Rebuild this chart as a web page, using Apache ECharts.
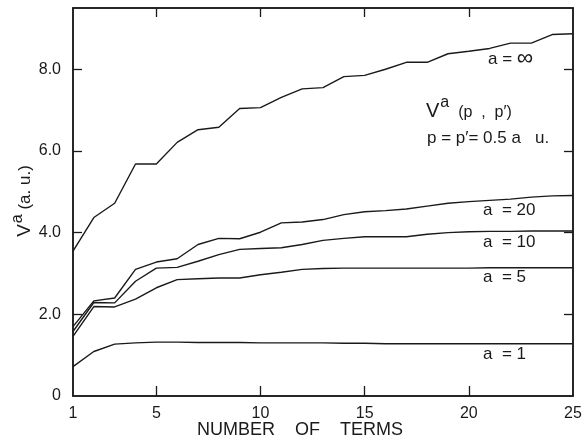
<!DOCTYPE html>
<html>
<head>
<meta charset="utf-8">
<script src="https://cdn.jsdelivr.net/npm/echarts@6/dist/echarts.min.js"></script>
<style>
  html, body { margin: 0; padding: 0; background: #fff; }
  #chart { width: 585px; height: 441px; }
</style>
</head>
<body>
<div id="chart"></div>
<script>
// number of terms
var terms = [];
for (var i = 1; i <= 25; i++) terms.push(i);

// V^a(p,p') curves
var aInf = [3.55, 4.37, 4.72, 5.68, 5.68, 6.21, 6.52, 6.58, 7.04, 7.06, 7.31, 7.52, 7.55, 7.82, 7.85, 8.00, 8.17, 8.17, 8.38, 8.44, 8.51, 8.64, 8.64, 8.85, 8.87];
var a20 = [1.70, 2.33, 2.40, 3.10, 3.28, 3.36, 3.71, 3.86, 3.85, 4.01, 4.24, 4.26, 4.32, 4.44, 4.51, 4.54, 4.58, 4.65, 4.72, 4.76, 4.79, 4.82, 4.87, 4.90, 4.91];
var a10 = [1.58, 2.29, 2.28, 2.81, 3.13, 3.15, 3.30, 3.46, 3.59, 3.61, 3.63, 3.71, 3.81, 3.86, 3.90, 3.90, 3.90, 3.96, 4.00, 4.02, 4.03, 4.03, 4.04, 4.04, 4.04];
var a5 = [1.46, 2.19, 2.18, 2.37, 2.65, 2.85, 2.87, 2.89, 2.89, 2.97, 3.03, 3.10, 3.12, 3.13, 3.13, 3.13, 3.13, 3.13, 3.13, 3.13, 3.14, 3.14, 3.14, 3.14, 3.14];
var a1 = [0.72, 1.09, 1.27, 1.30, 1.32, 1.32, 1.31, 1.31, 1.31, 1.30, 1.30, 1.30, 1.30, 1.29, 1.29, 1.28, 1.28, 1.28, 1.28, 1.28, 1.28, 1.28, 1.28, 1.28, 1.28];

// tick labels
var xLabels = [1, 5, 10, 15, 20, 25];
var xTicks = [5, 10, 15, 20];
var yLabels = [0, 2, 4, 6, 8];
var yTicks = [2, 4, 6, 8];

var font = 'Liberation Sans, Arial, sans-serif';
var ink = '#1a1a1a';

function pairs(ys) {
    return ys.map(function (v, i) { return [terms[i], v]; });
}

function curve(name, ys) {
    return {
        name: name,
        type: 'line',
        data: pairs(ys),
        symbol: 'none',
        animation: false,
        lineStyle: {color: ink, width: 1.4}
    };
}

// frame axis: ticks only, no labels
function frameAxis(extra) {
    var ax = {
        type: 'value',
        axisLine: {show: true, onZero: false, lineStyle: {color: ink, width: 1.5}},
        axisTick: {show: true, inside: true, length: 9, lineStyle: {color: ink, width: 1.3}},
        axisLabel: {show: false},
        splitLine: {show: false}
    };
    for (var k in extra) ax[k] = extra[k];
    return ax;
}

var myChart = echarts.init(document.getElementById('chart'));

var option = {
    backgroundColor: '#fff',
    animation: false,
    grid: {left: 73, right: 12, top: 8, bottom: 45, show: true, borderColor: ink, borderWidth: 1.5},
    xAxis: [
        {
            type: 'value', min: 1, max: 25,
            axisLine: {onZero: false, lineStyle: {color: ink, width: 1.5}},
            axisTick: {inside: true, length: 10, customValues: xTicks, lineStyle: {color: ink, width: 1.3}},
            axisLabel: {customValues: xLabels, color: ink, fontSize: 16, fontFamily: font, margin: 10},
            splitLine: {show: false}
        },
        frameAxis({min: 1, max: 25, position: 'top',
            axisTick: {show: true, inside: true, length: 9, customValues: xTicks, lineStyle: {color: ink, width: 1.3}}})
    ],
    yAxis: [
        {
            type: 'value', min: 0, max: 9.5,
            axisLine: {show: true, onZero: false, lineStyle: {color: ink, width: 1.5}},
            axisTick: {show: true, inside: true, length: 9, customValues: yTicks, lineStyle: {color: ink, width: 1.3}},
            axisLabel: {
                customValues: yLabels, color: ink, fontSize: 16, fontFamily: font, margin: 12,
                formatter: function (v) { return v === 0 ? '0' : v.toFixed(1); }
            },
            splitLine: {show: false}
        },
        frameAxis({min: 0, max: 9.5, position: 'right',
            axisTick: {show: true, inside: true, length: 9, customValues: yTicks, lineStyle: {color: ink, width: 1.3}}})
    ],
    series: [
        curve('a = ∞', aInf),
        curve('a = 20', a20),
        curve('a = 10', a10),
        curve('a = 5', a5),
        curve('a = 1', a1)
    ],
    graphic: [
        {
            type: 'text', left: 488, top: 47,
            style: {
                text: '{t|a = }{i|∞}',
                rich: {
                    t: {fontSize: 17, fontFamily: font, fill: ink, verticalAlign: 'bottom'},
                    i: {fontSize: 23, fontFamily: font, fill: ink, verticalAlign: 'bottom', padding: [0, 0, -2, 0]}
                }
            }
        },
        {type: 'text', left: 483, top: 202, style: {text: 'a  = 20', fill: ink, font: '17px ' + font}},
        {type: 'text', left: 483, top: 234, style: {text: 'a  = 10', fill: ink, font: '17px ' + font}},
        {type: 'text', left: 483, top: 269, style: {text: 'a  = 5', fill: ink, font: '17px ' + font}},
        {type: 'text', left: 483, top: 346, style: {text: 'a  = 1', fill: ink, font: '17px ' + font}},
        {
            type: 'text', left: 426, top: 95,
            style: {
                text: '{v|V}{s|a}{n|  (p  ,  p′)}',
                rich: {
                    v: {fontSize: 20, fontFamily: font, fill: ink, verticalAlign: 'bottom'},
                    s: {fontSize: 16, fontFamily: font, fill: ink, verticalAlign: 'bottom', padding: [0, 0, 10, 1]},
                    n: {fontSize: 16, fontFamily: font, fill: ink, verticalAlign: 'bottom'}
                }
            }
        },
        {type: 'text', left: 427, top: 130, style: {text: 'p = p′= 0.5 a   u.', fill: ink, font: '17px ' + font}},
        {
            type: 'text', x: 22, y: 201, rotation: Math.PI / 2,
            style: {
                text: '{v|V}{s|a}{n| (a. u.)}',
                align: 'center', verticalAlign: 'middle',
                rich: {
                    v: {fontSize: 19, fontFamily: font, fill: ink, verticalAlign: 'bottom'},
                    s: {fontSize: 16, fontFamily: font, fill: ink, verticalAlign: 'bottom', padding: [0, 0, 8, 1]},
                    n: {fontSize: 17, fontFamily: font, fill: ink, verticalAlign: 'bottom'}
                }
            }
        },
        {
            type: 'text', x: 300, y: 430,
            style: {text: 'NUMBER    OF    TERMS', align: 'center', verticalAlign: 'middle', fill: ink, font: '18px ' + font}
        }
    ]
};

myChart.setOption(option);
</script>
</body>
</html>
